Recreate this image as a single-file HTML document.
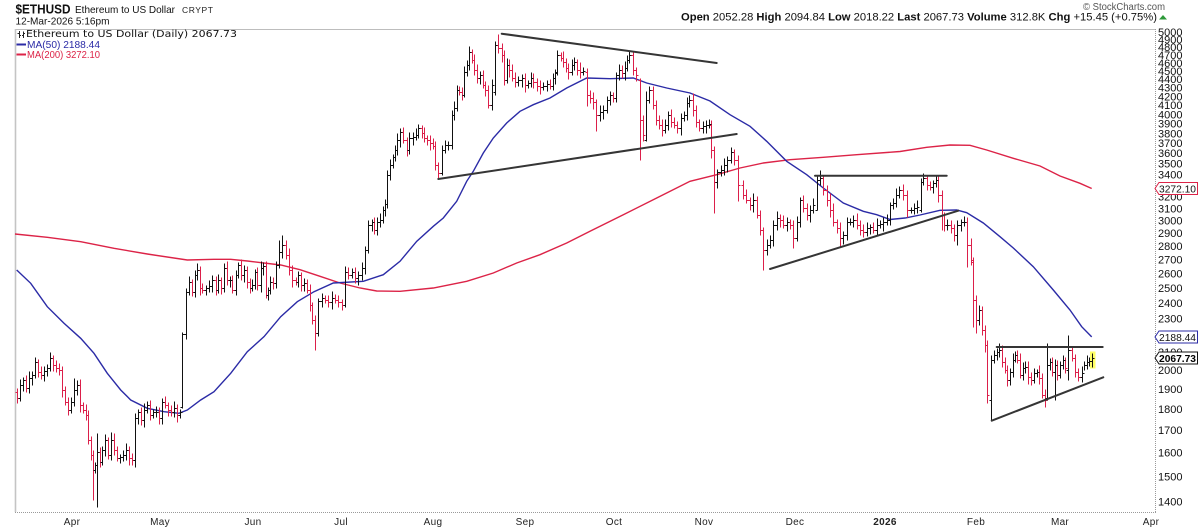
<!DOCTYPE html>
<html><head><meta charset="utf-8">
<style>
html,body{margin:0;padding:0;background:#fff;}
svg{display:block;font-family:"Liberation Sans",Arial,sans-serif;}
</style></head>
<body>
<svg width="1199" height="528" viewBox="0 0 1199 528" xmlns="http://www.w3.org/2000/svg">
<rect width="1199" height="528" fill="#fff"/>

<!-- Header -->
<text x="15.5" y="13.5" font-size="12.5" font-weight="bold" textLength="55" lengthAdjust="spacingAndGlyphs" fill="#111">$ETHUSD</text>
<text x="75" y="13" font-size="10.5" textLength="100" lengthAdjust="spacingAndGlyphs" fill="#111">Ethereum to US Dollar</text>
<text x="182" y="13" font-size="8.5" textLength="31" lengthAdjust="spacing" fill="#222">CRYPT</text>
<text x="15.5" y="24.5" font-size="10.5" textLength="94" lengthAdjust="spacingAndGlyphs" fill="#111">12-Mar-2026 5:16pm</text>

<text x="1083" y="10" font-size="10" textLength="82" lengthAdjust="spacingAndGlyphs" fill="#555">© StockCharts.com</text>
<text x="681" y="20.5" font-size="11" textLength="476" lengthAdjust="spacingAndGlyphs" fill="#111"><tspan font-weight="bold">Open</tspan> 2052.28 <tspan font-weight="bold">High</tspan> 2094.84 <tspan font-weight="bold">Low</tspan> 2018.22 <tspan font-weight="bold">Last</tspan> 2067.73 <tspan font-weight="bold">Volume</tspan> 312.8K <tspan font-weight="bold">Chg</tspan> +15.45 (+0.75%)</text>
<polygon points="1159,19.5 1167,19.5 1163,15" fill="#2e9a3a"/>

<!-- Plot frame -->
<line x1="15" y1="29.5" x2="1155" y2="29.5" stroke="#bdbdbd" stroke-width="1"/>
<line x1="15.5" y1="29" x2="15.5" y2="512" stroke="#c4c4c4" stroke-width="1.6"/>
<line x1="15" y1="512.5" x2="1156" y2="512.5" stroke="#9a9a9a" stroke-width="1" stroke-dasharray="1,1"/>
<line x1="1155.5" y1="29" x2="1155.5" y2="512" stroke="#9a9a9a" stroke-width="1" stroke-dasharray="1,1"/>

<!-- Legend -->
<g stroke="#222" stroke-width="1" shape-rendering="crispEdges">
<path d="M19.5 31V38M17.5 33.5H19.5M19.5 35.5H21M23.5 31.5V38M22 35.5H23.5M23.5 33.5H25"/>
</g>
<text x="26" y="37" font-family="'DejaVu Sans','Liberation Sans',sans-serif" font-size="10" textLength="211" lengthAdjust="spacingAndGlyphs" fill="#111">Ethereum to US Dollar (Daily) 2067.73</text>
<line x1="16.5" y1="44.5" x2="26" y2="44.5" stroke="#2b2ba6" stroke-width="2"/>
<text x="27" y="48" font-size="10" textLength="73" lengthAdjust="spacingAndGlyphs" fill="#2b2ba6">MA(50) 2188.44</text>
<line x1="16.5" y1="54.5" x2="26" y2="54.5" stroke="#dc2347" stroke-width="2"/>
<text x="27" y="58" font-size="10" textLength="73" lengthAdjust="spacingAndGlyphs" fill="#dc2347">MA(200) 3272.10</text>

<!-- Y axis labels -->
<g font-size="11" fill="#111">
<text x="1158" y="36">5000</text>
<text x="1158" y="43.5">4900</text>
<text x="1158" y="51">4800</text>
<text x="1158" y="58.8">4700</text>
<text x="1158" y="66.8">4600</text>
<text x="1158" y="74.9">4500</text>
<text x="1158" y="83.2">4400</text>
<text x="1158" y="91.7">4300</text>
<text x="1158" y="100.3">4200</text>
<text x="1158" y="109.2">4100</text>
<text x="1158" y="118.3">4000</text>
<text x="1158" y="127.7">3900</text>
<text x="1158" y="137.3">3800</text>
<text x="1158" y="147.1">3700</text>
<text x="1158" y="157.2">3600</text>
<text x="1158" y="167.6">3500</text>
<text x="1158" y="178.3">3400</text>
<text x="1158" y="189.3">3300</text>
<text x="1158" y="200.7">3200</text>
<text x="1158" y="212.4">3100</text>
<text x="1158" y="224.5">3000</text>
<text x="1158" y="237">2900</text>
<text x="1158" y="250">2800</text>
<text x="1158" y="263.4">2700</text>
<text x="1158" y="277.3">2600</text>
<text x="1158" y="291.8">2500</text>
<text x="1158" y="306.8">2400</text>
<text x="1158" y="322.5">2300</text>
<text x="1158" y="338.9">2200</text>
<text x="1158" y="356.1">2100</text>
<text x="1158" y="374.1">2000</text>
<text x="1158" y="393">1900</text>
<text x="1158" y="413">1800</text>
<text x="1158" y="434.1">1700</text>
<text x="1158" y="456.5">1600</text>
<text x="1158" y="480.3">1500</text>
<text x="1158" y="505.7">1400</text>
</g>

<!-- X axis labels -->
<g font-size="10" fill="#222" text-anchor="middle" letter-spacing="0.3">
<text x="72" y="525">Apr</text>
<text x="160" y="525">May</text>
<text x="253" y="525">Jun</text>
<text x="341" y="525">Jul</text>
<text x="433" y="525">Aug</text>
<text x="525" y="525">Sep</text>
<text x="614" y="525">Oct</text>
<text x="704" y="525">Nov</text>
<text x="795" y="525">Dec</text>
<text x="885" y="525" font-weight="bold">2026</text>
<text x="976" y="525">Feb</text>
<text x="1060" y="525">Mar</text>
<text x="1151" y="525">Apr</text>
</g>

<!-- Moving averages -->
<polyline fill="none" stroke="#dc2347" stroke-width="1.4" points="15,234 47.3,237.3 80.7,241.7 114,248.3 147.3,254 187.3,260 214,259.3 230.7,259.3 247.3,261 280.7,265 300,269.7 320,276.3 340,283 360,288 376.7,291 400,291.3 433.3,288 466.7,281.3 493.3,273 516.7,263 540,254.7 566.7,243 590,231.3 623.3,214.7 656.7,198 690,181.3 716.7,174.7 740,168 763.3,163 790,159.7 823.3,157.3 856.7,154.7 900,151.5 926.7,147.3 950,145 970,145.3 986.7,150 1013.3,158.3 1040,166 1060,176 1080,183.3 1091.7,188.5"/>
<polyline fill="none" stroke="#2b2ba6" stroke-width="1.4" points="16.7,270 30.7,283.3 47.3,306.7 64,323.3 80.7,338.3 94,353.3 107.3,373.3 120.7,390 130.7,400 147.3,408.3 164,411.7 179,413.3 187.3,410 200.7,400 214,391.7 230.7,373.3 247.3,351.7 264,336.7 280.7,316.7 297.3,301.7 314,291.7 333.3,283 363.3,281.3 383.3,274.7 400,261.3 416.7,241.3 433.3,226.3 443.3,218 456.7,201.3 466.7,181.3 473.3,171.3 483.3,153 493.3,138 506.7,123 520,111.3 533.3,104.7 550,98 566.7,88 586.7,78 610,78.7 633.3,78 646.7,83 666.7,88 690,93 710,101 730,114.7 750,126.3 766.7,141.3 786.7,161.3 806.7,174.7 823.3,188 843.3,203 863.3,211.3 876.7,214.7 890,219.5 905,218 920,215 940,210.3 956.7,210 966.7,212.7 983.3,223 1000,236.7 1013.3,248 1033.3,266.7 1053.3,290 1070,310 1081.7,326.7 1091.7,336.9"/>

<!-- Last bar highlight -->
<rect x="1090" y="351.5" width="5.5" height="17" fill="#ffff66"/>

<!-- Price bars -->
<g shape-rendering="crispEdges" stroke-width="1" fill="none" transform="translate(0.5,0.5)">
<path stroke="#dc1f4a" d="M17 388V403M15 392H17M17 398H19M26 375V392M24 380H26M26 388H28M38 359V377M36 362H38M38 372H40M41 366V379M39 372H41M41 375H43M53 355V371M51 358H53M53 365H55M56 360V372M54 365H56M56 368H58M59 363V375M57 368H59M59 370H61M62 366V397M60 370H62M62 390H64M65 386V405M63 390H65M65 402H67M68 397V415M66 402H68M68 410H70M80 379V412M78 385H80M80 405H82M83 402V413M81 405H83M83 410H85M86 404V420M84 410H86M86 415H88M88 410V444M86 415H88M88 440H90M91 436V460M89 440H91M91 455H93M93 450V500M91 455H93M93 470H95M100 447V467M98 452H100M100 462H102M108 437V459M106 440H108M108 455H110M114 433V455M112 440H114M114 450H116M117 446V461M115 450H117M117 458H119M129 446V465M127 450H129M129 458H131M132 453V465M130 458H132M132 460H134M141 407V425M139 412H141M141 420H143M150 400V420M148 405H150M150 415H152M159 407V424M157 412H159M159 418H161M165 396V408M163 402H165M165 405H167M168 402V416M166 405H168M168 410H170M171 405V416M169 410H171M171 412H173M177 404V422M175 408H177M177 415H179M192 279V296M190 282H192M192 292H194M200 266V295M198 270H200M200 288H202M202 283V293M200 288H202M202 290H204M216 276V295M214 280H216M216 290H218M221 277V294M219 280H221M221 288H223M227 261V285M225 268H227M227 280H229M232 275V293M230 280H232M232 290H234M241 259V280M239 265H241M241 275H243M247 266V288M245 270H247M247 282H249M250 278V293M248 282H250M250 288H252M257 267V290M255 272H257M257 285H259M266 261V298M264 266H266M266 295H268M273 277V289M271 282H273M273 283H275M286 240V259M284 245H286M286 255H288M289 248V275M287 255H289M289 270H291M292 265V287M290 270H292M292 280H294M296 277V285M294 280H296M296 282H298M301 272V291M299 275H301M301 285H303M307 279V293M305 283H307M307 290H309M310 284V311M308 290H310M310 305H312M312 302V324M310 305H312M312 320H314M315 315V350M313 320H315M315 333H317M325 295V303M323 298H325M325 300H327M328 295V307M326 300H328M328 302H330M335 294V303M333 298H335M335 300H337M338 295V307M336 300H338M338 302H340M342 299V310M340 302H342M342 305H344M348 267V279M346 272H348M348 275H350M355 267V283M353 272H355M355 278H357M374 217V234M372 222H374M374 230H376M403 127V143M401 132H403M403 140H405M407 137V156M405 140H407M407 150H409M422 125V138M420 128H422M422 133H424M424 127V142M422 133H424M424 138H426M427 135V145M425 138H427M427 140H429M430 135V150M428 140H430M430 143H432M433 138V149M431 143H433M433 146H435M435 141V170M433 146H435M435 165H437M438 162V178M436 165H438M438 173H440M459 86V95M457 90H459M459 92H461M462 87V100M460 92H462M462 95H464M472 49V63M470 52H472M472 60H474M474 54V75M472 60H474M474 70H476M477 64V83M475 70H477M477 78H479M483 70V88M481 75H483M483 85H485M485 81V96M483 85H485M485 90H487M488 85V108M486 90H488M488 105H490M498 34V53M496 45H498M498 48H500M502 43V62M500 48H502M502 55H504M504 50V85M502 55H504M504 80H506M509 59V77M507 65H509M509 70H511M512 64V81M510 70H512M512 78H514M515 72V87M513 78H515M515 82H517M525 73V92M523 78H525M525 85H527M533 73V88M531 78H533M533 82H535M537 78V91M535 82H537M537 86H539M540 80V94M538 86H540M540 87H542M550 79V89M548 84H550M550 86H552M561 52V61M559 55H561M561 58H563M563 51V67M561 58H563M563 62H565M566 58V72M564 62H566M566 68H568M568 63V79M566 68H568M568 72H570M577 59V75M575 62H577M577 70H579M580 62V78M578 70H580M580 72H582M587 68V106M585 72H587M587 95H589M590 90V103M588 95H590M590 98H592M593 92V109M591 98H593M593 102H595M596 99V131M594 102H596M596 115H598M613 92V102M611 95H613M613 98H615M622 65V78M620 70H622M622 73H624M633 51V75M631 55H633M633 70H635M636 67V81M634 70H636M636 75H638M640 78V160M638 80H640M640 120H642M643 115V141M641 120H643M643 135H645M653 86V109M651 90H653M653 105H655M656 100V125M654 105H656M656 120H658M659 115V129M657 120H659M659 125H661M662 119V136M660 125H662M662 130H664M671 109V127M669 115H671M671 122H673M674 117V128M672 122H674M674 125H676M677 121V133M675 125H677M677 128H679M693 93V116M691 100H693M693 110H695M696 105V127M694 110H696M696 122H698M699 119V131M697 122H699M699 128H701M711 120V158M709 125H711M711 150H713M714 146V213M712 150H714M714 182H716M734 149V165M732 152H734M734 160H736M738 155V201M736 160H738M738 185H740M743 180V199M741 185H743M743 195H745M746 189V203M744 195H746M746 200H748M750 197V210M748 200H750M750 205H752M757 196V218M755 200H757M757 215H759M760 210V235M758 215H760M760 230H762M763 227V270M761 230H763M763 250H765M780 214V227M778 218H780M780 220H782M783 215V228M781 220H783M783 225H785M790 219V229M788 222H790M790 225H792M793 220V248M791 225H793M793 238H795M803 195V212M801 200H803M803 208H805M807 203V220M805 208H807M807 215H809M823 175V195M821 178H823M823 190H825M827 185V206M825 190H827M827 200H829M830 193V217M828 200H830M830 210H832M833 203V226M831 210H833M833 222H835M837 219V233M835 222H837M837 228H839M840 222V246M838 228H840M840 238H842M857 213V229M855 220H857M857 225H859M860 220V235M858 225H860M860 230H862M863 224V237M861 230H863M863 232H865M873 222V233M871 227H873M873 230H875M903 184V200M901 190H903M903 195H905M907 190V217M905 195H907M907 210H909M927 175V190M925 178H927M927 185H929M930 181V190M928 185H930M930 187H932M938 176V202M936 180H938M938 195H940M942 190V230M940 195H942M942 215H944M944 212V231M942 215H944M944 225H946M951 220V233M949 225H951M951 228H953M954 224V241M952 228H954M954 235H956M967 217V267M965 222H967M967 245H969M971 238V265M969 245H971M971 260H973M973 257V327M971 262H973M973 300H975M976 295V333M974 300H976M976 320H978M982 306V335M980 310H982M982 330H984M985 325V352M983 330H985M985 345H987M987 340V403M985 345H987M987 395H989M1002 345V367M1000 350H1002M1002 362H1004M1005 357V373M1003 362H1005M1005 370H1007M1007 365V386M1005 370H1007M1007 380H1009M1017 350V363M1015 355H1017M1017 360H1019M1020 353V378M1018 360H1020M1020 375H1022M1028 361V384M1026 367H1028M1028 377H1030M1031 372V385M1029 377H1031M1031 380H1033M1039 365V384M1037 372H1039M1039 378H1041M1042 373V398M1040 378H1042M1042 395H1044M1045 389V407M1043 395H1045M1045 400H1047M1052 357V376M1050 362H1052M1052 372H1054M1057 360V380M1055 365H1057M1057 375H1059M1065 357V373M1063 360H1065M1065 368H1067M1072 346V361M1070 350H1072M1072 358H1074M1075 354V377M1073 358H1075M1075 372H1077M1078 368V381M1076 372H1078M1078 377H1080"/>
<path stroke="#111" d="M20 379V401M18 398H20M20 385H22M23 377V391M21 385H23M23 380H25M29 371V393M27 388H29M29 378H31M32 371V385M30 378H32M32 375H34M35 357V378M33 375H35M35 362H37M44 366V381M42 375H44M44 371H46M47 364V376M45 371H47M47 368H49M50 352V371M48 368H50M50 358H52M71 397V413M69 410H71M71 402H73M74 378V406M72 402H74M74 390H76M77 380V395M75 390H77M77 385H79M95 462V473M93 470H95M95 465H97M97 433V507M95 465H97M97 452H99M102 446V465M100 462H102M102 450H104M105 434V456M103 450H105M105 440H107M111 432V460M109 455H111M111 440H113M120 454V463M118 458H120M120 457H122M123 450V461M121 457H123M123 455H125M126 443V460M124 455H126M126 450H128M135 413V467M133 460H135M135 418H137M138 409V424M136 418H138M138 412H140M144 403V427M142 420H144M144 410H146M147 401V413M145 410H147M147 405H149M153 409V418M151 415H153M153 412H155M156 406V417M154 412H156M156 412H158M162 398V424M160 418H162M162 402H164M174 401V417M172 412H174M174 408H176M180 409V418M178 415H180M180 412H182M182 332V408M180 407H182M182 334H184M186 288V339M184 334H186M186 292H188M189 276V295M187 292H189M189 282H191M195 270V297M193 292H195M195 275H197M197 263V280M195 275H197M197 270H199M206 285V295M204 290H206M206 288H208M209 280V292M207 288H209M209 286H211M212 275V292M210 286H212M212 280H214M218 274V293M216 290H218M218 280H220M224 263V292M222 288H224M224 268H226M230 276V287M228 280H230M230 280H232M236 270V295M234 290H236M236 275H238M238 262V278M236 275H238M238 265H240M244 265V282M242 275H244M244 270H246M252 279V291M250 288H252M252 285H254M255 269V289M253 285H255M255 272H257M261 261V292M259 285H261M261 268H263M263 262V275M261 268H263M263 266H265M268 287V300M266 295H268M268 290H270M270 276V294M268 290H270M270 282H272M276 261V288M274 283H276M276 265H278M279 240V268M277 265H279M279 252H281M282 235V258M280 252H282M282 245H284M298 271V287M296 282H298M298 275H300M304 278V291M302 285H304M304 283H306M318 298V336M316 333H318M318 301H320M322 293V307M320 301H322M322 298H324M332 291V309M330 302H332M332 298H334M345 266V307M343 305H345M345 272H347M352 268V278M350 275H352M352 272H354M358 271V285M356 278H358M358 275H360M362 262V280M360 275H362M362 268H364M365 246V274M363 268H365M365 250H367M368 220V253M366 250H368M368 225H370M372 219V231M370 225H372M372 222H374M377 217V235M375 230H377M377 222H379M380 213V227M378 222H380M380 220H382M383 206V223M381 220H383M383 210H385M385 199V216M383 210H385M385 204H387M387 170V208M385 204H387M387 175H389M390 159V180M388 175H390M390 165H392M393 154V168M391 165H393M393 157H395M395 145V161M393 157H395M395 150H397M397 133V155M395 150H397M397 140H399M400 128V147M398 140H400M400 132H402M409 132V154M407 150H409M409 138H411M413 132V145M411 138H413M413 137H415M416 128V140M414 137H416M416 135H418M418 124V138M416 135H418M418 128H420M442 145V175M440 173H442M442 150H444M445 140V153M443 150H445M445 145H447M448 141V150M446 145H448M448 145H450M452 110V149M450 145H452M452 115H454M454 101V120M452 115H454M454 108H456M457 85V111M455 108H457M457 90H459M464 66V97M462 95H464M464 72H466M467 60V76M465 72H467M467 65H469M469 46V70M467 65H469M469 52H471M480 71V84M478 78H480M480 75H482M492 79V110M490 105H492M492 85H494M495 41V95M493 92H495M495 45H497M507 58V83M505 80H507M507 65H509M518 76V86M516 82H518M518 80H520M522 74V87M520 80H522M522 78H524M528 80V88M526 85H528M528 83H530M531 72V87M529 83H531M531 78H533M543 82V90M541 87H543M543 86H545M547 80V91M545 86H547M547 84H549M553 73V90M551 86H553M553 78H555M555 69V84M553 78H555M555 73H557M557 50V75M555 72H557M557 55H559M572 59V75M570 72H572M572 65H574M574 57V70M572 65H574M574 62H576M583 67V75M581 72H583M583 71H585M600 105V121M598 115H600M600 112H602M603 105V119M601 112H603M603 110H605M607 96V113M605 110H607M607 100H609M610 91V105M608 100H610M610 95H612M616 72V102M614 98H616M616 75H618M619 64V80M617 75H619M619 70H621M625 61V80M623 73H625M625 68H627M627 55V71M625 68H627M627 60H629M629 50V63M627 60H629M629 55H631M646 91V141M644 140H646M646 100H648M649 86V103M647 100H649M649 90H651M665 119V133M663 130H665M665 125H667M668 111V130M666 125H668M668 115H670M681 113V135M679 128H681M681 118H683M684 111V121M682 118H684M684 115H686M687 97V120M685 115H687M687 103H689M689 95V107M687 103H689M689 100H691M703 121V133M701 128H703M703 126H705M706 120V133M704 126H706M706 125H708M709 119V128M707 125H709M709 124H711M717 169V188M715 182H717M717 172H719M721 165V176M719 172H721M721 170H723M724 158V175M722 170H724M724 165H726M727 156V172M725 165H727M727 160H729M731 147V163M729 160H731M731 152H733M753 193V212M751 205H753M753 200H755M767 239V255M765 250H767M767 245H769M770 235V248M768 245H770M770 240H772M773 220V246M771 240H773M773 225H775M777 211V230M775 225H777M777 218H779M787 217V231M785 225H787M787 222H789M797 216V241M795 238H797M797 222H799M800 197V227M798 222H800M800 200H802M810 205V222M808 215H810M810 210H812M813 198V213M811 210H813M813 205H815M817 176V210M815 210H817M817 180H819M820 170V185M818 180H820M820 178H822M843 231V244M841 238H843M843 235H845M847 217V240M845 235H847M847 222H849M850 218V225M848 222H850M850 222H852M853 215V227M851 222H853M853 220H855M867 222V236M865 232H867M867 228H869M870 224V234M868 228H870M870 227H872M877 218V235M875 230H877M877 225H879M880 220V228M878 225H880M880 224H882M883 217V231M881 224H883M883 222H885M887 214V225M885 222H887M887 220H889M890 202V225M888 220H890M890 205H892M893 198V209M891 205H893M893 203H895M896 188V207M894 203H896M896 195H898M899 186V198M897 195H899M899 190H901M911 207V213M909 210H911M911 210H913M914 203V214M912 210H914M914 208H916M917 200V213M915 208H917M917 207H919M921 178V212M919 210H921M921 182H923M923 173V185M921 182H923M923 178H925M933 180V193M931 187H933M933 183H935M936 175V187M934 183H936M936 180H938M947 219V230M945 225H947M947 225H949M957 220V245M955 235H957M957 225H959M961 219V231M959 225H961M961 222H963M964 216V226M962 222H964M964 222H966M979 305V325M977 320H979M979 310H981M991 355V420M989 400H991M991 360H993M994 350V363M992 360H994M994 355H996M997 348V360M995 355H997M997 352H999M999 343V357M997 352H999M999 350H1001M1010 368V385M1008 380H1010M1010 372H1012M1013 353V377M1011 372H1013M1013 360H1015M1015 351V362M1013 360H1015M1015 355H1017M1023 362V380M1021 375H1023M1023 368H1025M1025 361V373M1023 368H1025M1025 367H1027M1034 368V383M1032 380H1034M1034 373H1036M1037 369V377M1035 373H1037M1037 372H1039M1047 343V400M1045 398H1047M1047 365H1049M1050 358V370M1048 365H1050M1050 362H1052M1055 359V400M1053 372H1055M1055 365H1057M1060 361V378M1058 375H1060M1060 365H1062M1063 355V369M1061 365H1063M1063 360H1065M1068 335V380M1066 370H1068M1068 350H1070M1082 366V382M1080 377H1082M1082 373H1084M1084 361V370M1082 373H1084M1084 365H1086M1087 355V369M1085 365H1087M1087 362H1089M1089 357V366M1087 362H1089M1089 361H1091M1092 353V367M1090 361H1092M1092 358H1094"/>
</g>

<!-- Trend lines -->
<g stroke="#353535" stroke-width="2" stroke-linecap="round">
<line x1="501.7" y1="33.7" x2="716.7" y2="63"/>
<line x1="438.3" y1="179" x2="736.7" y2="134"/>
<line x1="815" y1="175.7" x2="946.7" y2="175.7"/>
<line x1="770" y1="269" x2="958.3" y2="210.7"/>
<line x1="996.7" y1="347" x2="1102.7" y2="347"/>
<line x1="991.7" y1="420.7" x2="1103.3" y2="377.3"/>
</g>

<!-- Price boxes -->
<polygon points="1155,188.5 1159,182.5 1197.5,182.5 1197.5,194.5 1159,194.5" fill="#fff" stroke="#dc2347" stroke-width="1"/>
<text x="1159" y="192.5" font-size="10.5" textLength="37" lengthAdjust="spacingAndGlyphs" fill="#111">3272.10</text>
<polygon points="1155,337 1159,331 1197.5,331 1197.5,343 1159,343" fill="#fff" stroke="#2b2ba6" stroke-width="1"/>
<text x="1159" y="341" font-size="10.5" textLength="37" lengthAdjust="spacingAndGlyphs" fill="#111">2188.44</text>
<polygon points="1155,358 1159,352 1197.5,352 1197.5,364 1159,364" fill="#fff" stroke="#111" stroke-width="1"/>
<text x="1159" y="362" font-size="10.5" font-weight="bold" textLength="37" lengthAdjust="spacingAndGlyphs" fill="#000">2067.73</text>
</svg>
</body></html>
